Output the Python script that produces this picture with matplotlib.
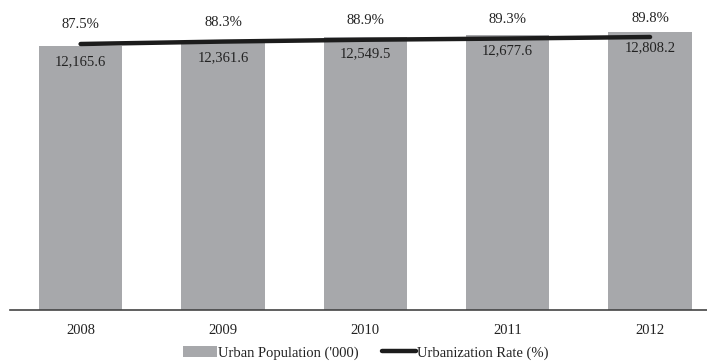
import matplotlib.pyplot as plt
import numpy as np

plt.rcParams['font.family'] = ['Liberation Serif', 'DejaVu Serif']

years = ['2008', '2009', '2010', '2011', '2012']
urban_pop = [12165.6, 12361.6, 12549.5, 12677.6, 12808.2]
urban_rate = [87.5, 88.3, 88.9, 89.3, 89.8]

bar_color = '#a7a8ab'
line_color = '#1c1c1c'

fig = plt.figure(figsize=(7.07, 3.63), dpi=100)
ax = fig.add_axes([10/707, 53/363, 697/707, 304/363])
x = np.arange(len(years))

bars = ax.bar(x, urban_pop, width=0.585, color=bar_color, label="Urban Population ('000)")
ax.set_ylim(0, 14000)
ax.set_xlim(-0.496, 4.4)

for xi, v in zip(x, urban_pop):
    ax.annotate(f'{v:,.1f}', (xi, v), xytext=(0, -16), textcoords='offset pixels',
                ha='center', va='center', fontsize=10.5, color='#222222')

ax2 = ax.twinx()
line, = ax2.plot(x, urban_rate, color=line_color, linewidth=3.2, solid_capstyle='round',
                 label='Urbanization Rate (%)')
ax2.set_ylim(0, 100)
for xi, v in zip(x, urban_rate):
    ax2.annotate(f'{v:.1f}%', (xi, v), xytext=(0, 19), textcoords='offset pixels',
                 ha='center', va='center', fontsize=10.5, color='#222222')

for a in (ax, ax2):
    for s in ('top', 'right', 'left'):
        a.spines[s].set_visible(False)
    a.set_yticks([])
ax.spines['bottom'].set_color('#444444')
ax.spines['bottom'].set_linewidth(1.2)
ax2.spines['bottom'].set_visible(False)

ax.set_xticks(x)
ax.set_xticklabels(years, fontsize=10.5, color='#222222')
ax.tick_params(axis='x', length=0, pad=10)

fig.legend([bars, line], ["Urban Population ('000)", 'Urbanization Rate (%)'],
           loc='center', bbox_to_anchor=(0.518, 10/363), ncol=2, frameon=False,
           fontsize=10.5, handlelength=2.3, handletextpad=0.1, columnspacing=1.6,
           labelcolor='#222222')

fig.savefig('out.png', dpi=100)
